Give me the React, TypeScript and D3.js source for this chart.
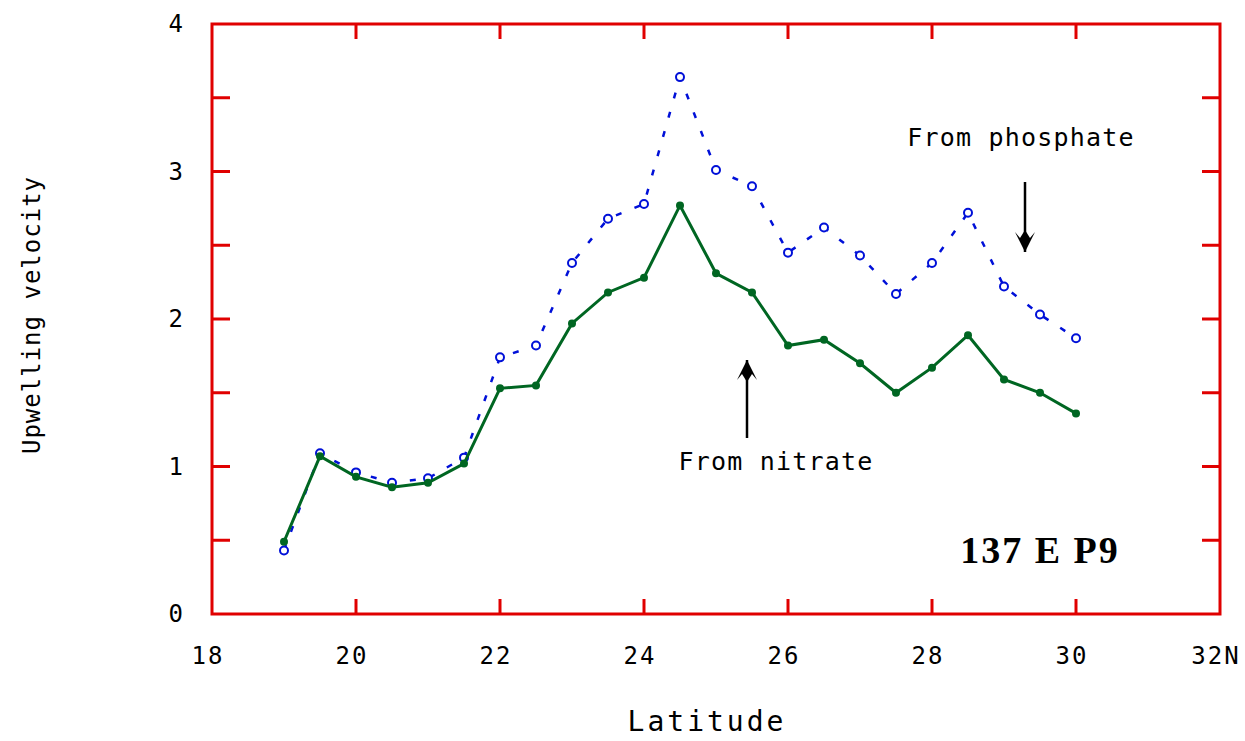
import * as d3 from "d3";

// latitude (deg N) of the stations
const lats = [19, 19.5, 20, 20.5, 21, 21.5, 22, 22.5, 23, 23.5, 24, 24.5, 25, 25.5, 26, 26.5, 27, 27.5, 28, 28.5, 29, 29.5, 30];
// upwelling velocity estimated from nitrate (green, solid)
const nitrate = [0.49, 1.07, 0.93, 0.86, 0.89, 1.02, 1.53, 1.55, 1.97, 2.18, 2.28, 2.77, 2.31, 2.18, 1.82, 1.86, 1.7, 1.5, 1.67, 1.89, 1.59, 1.5, 1.36];
// upwelling velocity estimated from phosphate (blue, dashed)
const phosphate = [0.43, 1.09, 0.96, 0.89, 0.92, 1.06, 1.74, 1.82, 2.38, 2.68, 2.78, 3.64, 3.01, 2.9, 2.45, 2.62, 2.43, 2.17, 2.38, 2.72, 2.22, 2.03, 1.87];

const xTicks = [18, 20, 22, 24, 26, 28, 30, 32];
const xTickLabels = ["18", "20", "22", "24", "26", "28", "30", "32N"];
const yTicks = [0, 0.5, 1, 1.5, 2, 2.5, 3, 3.5, 4];
const yTickLabels = [0, 1, 2, 3, 4];

const W = 1245;
const H = 741;
const RED = "#e00000";
const BLUE = "#0010d8";
const GREEN = "#006622";
const MONO = "'DejaVu Sans Mono', 'Liberation Mono', monospace";

export default function App() {
  const x = d3.scaleLinear().domain([18, 32]).range([212, 1220]);
  const y = d3.scaleLinear().domain([0, 4]).range([614, 24]);

  const line = d3.line<number>()
    .x((_, i) => x(lats[i]))
    .y((d) => y(d));

  // arrow helper: shaft from (x, y0) to tip (x, y1)
  const arrow = (ax: number, y0: number, y1: number) => {
    const dir = y1 > y0 ? 1 : -1;
    const head = `M${ax},${y1} L${ax - 10},${y1 - dir * 20} L${ax - 5},${y1 - dir * 14} L${ax},${y1 - dir * 22} L${ax + 5},${y1 - dir * 14} L${ax + 10},${y1 - dir * 20} Z`;
    return (
      <g>
        <line x1={ax} x2={ax} y1={y0} y2={y1} stroke="#000" strokeWidth={2.5} />
        <path d={head} fill="#000" />
      </g>
    );
  };

  return (
    <svg width={W} height={H} style={{ position: "absolute", left: 0, top: 0, background: "#fff" }}>
      {/* frame */}
      <rect x={x(18)} y={y(4)} width={x(32) - x(18)} height={y(0) - y(4)} fill="none" stroke={RED} strokeWidth={3} />
      {xTicks.slice(1, -1).map((t) => (
        <g key={`xt${t}`}>
          <line x1={x(t)} x2={x(t)} y1={y(0)} y2={y(0) - 15} stroke={RED} strokeWidth={3} />
          <line x1={x(t)} x2={x(t)} y1={y(4)} y2={y(4) + 15} stroke={RED} strokeWidth={3} />
        </g>
      ))}
      {yTicks.slice(1, -1).map((t) => (
        <g key={`yt${t}`}>
          <line x1={x(18)} x2={x(18) + 18} y1={y(t)} y2={y(t)} stroke={RED} strokeWidth={3} />
          <line x1={x(32)} x2={x(32) - 18} y1={y(t)} y2={y(t)} stroke={RED} strokeWidth={3} />
        </g>
      ))}

      {/* tick labels */}
      {xTicks.map((t, i) => (
        <text key={`xl${t}`} x={x(t) - 4} y={y(0) + 50} textAnchor="middle" fontFamily={MONO} fontSize={24} letterSpacing={2}>
          {xTickLabels[i]}
        </text>
      ))}
      {yTickLabels.map((t) => (
        <text key={`yl${t}`} x={183} y={y(t) + 8} textAnchor="end" fontFamily={MONO} fontSize={24}>
          {t}
        </text>
      ))}

      {/* axis titles */}
      <text x={707} y={731} textAnchor="middle" fontFamily={MONO} fontSize={28} letterSpacing={3}>Latitude</text>
      <text transform="translate(40,315) rotate(-90)" textAnchor="middle" fontFamily={MONO} fontSize={24} letterSpacing={1}>
        Upwelling velocity
      </text>

      {/* phosphate series */}
      <path d={line(phosphate) ?? ""} fill="none" stroke={BLUE} strokeWidth={2.5} strokeDasharray="6 14" />
      {phosphate.map((v, i) => (
        <circle key={`p${i}`} cx={x(lats[i])} cy={y(v)} r={4} fill="#fff" stroke={BLUE} strokeWidth={2} />
      ))}

      {/* nitrate series */}
      <path d={line(nitrate) ?? ""} fill="none" stroke={GREEN} strokeWidth={3} />
      {nitrate.map((v, i) => (
        <circle key={`n${i}`} cx={x(lats[i])} cy={y(v)} r={4} fill={GREEN} />
      ))}

      {/* annotations */}
      {arrow(747, 438, 360)}
      <text x={776} y={470} textAnchor="middle" fontFamily={MONO} fontSize={25} letterSpacing={1.2}>From nitrate</text>
      {arrow(1025, 182, 252)}
      <text x={1021} y={146} textAnchor="middle" fontFamily={MONO} fontSize={25} letterSpacing={1.2}>From phosphate</text>
      <text x={1040} y={563} textAnchor="middle" fontFamily="'Liberation Serif', serif" fontWeight="bold" fontSize={38} letterSpacing={2}>
        137 E P9
      </text>
    </svg>
  );
}
